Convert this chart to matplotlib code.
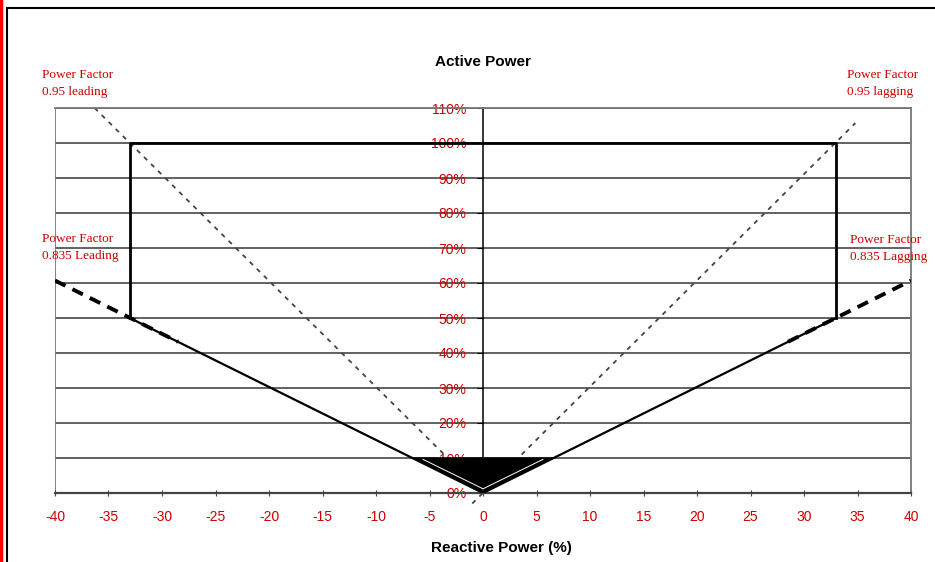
import matplotlib
matplotlib.use("Agg")
import matplotlib.pyplot as plt
from matplotlib.patches import Polygon
from matplotlib.lines import Line2D

# ---- data ----
x_ticks = [-40, -35, -30, -25, -20, -15, -10, -5, 0, 5, 10, 15, 20, 25, 30, 35, 40]
y_ticks = [0, 10, 20, 30, 40, 50, 60, 70, 80, 90, 100, 110]
y_tick_labels = [f"{v}%" for v in y_ticks]

# operating envelope rectangle (Q, P)
box_q = [-33, -33, 33, 33]
box_p = [50, 100, 100, 50]

# PF 0.835 solid V
v_left_q = [-33, 0]
v_left_p = [50, 0]
v_right_q = [0, 33]
v_right_p = [0, 50]

# PF 0.835 thick dashed extensions
pf835_left_q = [-40, -28.5]
pf835_left_p = [60.7, 43.2]
pf835_right_q = [28.5, 40]
pf835_right_p = [43.2, 60.7]

# PF 0.95 thin dotted lines
pf95_left_q = [-36.3, 0.0]
pf95_left_p = [110, 0]
pf95_right_q = [-1.0, 34.8]
pf95_right_p = [-3.0, 105.7]

# black filled triangle at low power
fill_q = [-6.6, 6.6, 0]
fill_p = [10, 10, 0.3]

# white inner gap lines
gap_left_q = [-5.6, 0]
gap_left_p = [9.6, 1.2]
gap_right_q = [0, 5.6]
gap_right_p = [1.2, 9.6]

red = "#cc0000"

fig = plt.figure(figsize=(9.35, 5.62), dpi=100)
ax = fig.add_axes([55/935, 69/562, (911-55)/935, (493-108)/562])

ax.set_xlim(-40, 40)
ax.set_ylim(0, 110)

# grid
for v in y_ticks[1:]:
    ax.axhline(v, color="#555555", lw=1.3, zorder=1)
ax.axvline(-40, color="#777777", lw=1.3, zorder=1)

# spines
ax.spines["left"].set_position(("data", 0))
ax.spines["left"].set_color("black")
ax.spines["left"].set_linewidth(1.1)
ax.spines["right"].set_color("#777777")
ax.spines["right"].set_linewidth(1.3)
ax.spines["top"].set_color("#777777")
ax.spines["top"].set_linewidth(1.3)
ax.spines["bottom"].set_color("#444444")
ax.spines["bottom"].set_linewidth(1.6)

ax.set_xticks(x_ticks)
ax.set_xticklabels([str(v) for v in x_ticks])
ax.set_yticks(y_ticks)
ax.set_yticklabels(y_tick_labels)
ax.tick_params(axis="x", colors="#444444", labelcolor=red, labelsize=10, direction="inout", length=5, pad=10)
ax.tick_params(axis="y", colors="black", labelcolor=red, labelsize=10, direction="out", length=4, pad=8)
for lab in ax.get_xticklabels() + ax.get_yticklabels():
    lab.set_fontfamily("Liberation Sans")

# fill
ax.add_patch(Polygon(list(zip(fill_q, fill_p)), closed=True, color="black", zorder=3))

# V lines
ax.plot(v_left_q, v_left_p, color="black", lw=1.6, zorder=4, solid_capstyle="butt")
ax.plot(v_right_q, v_right_p, color="black", lw=1.6, zorder=4, solid_capstyle="butt")
ax.plot(gap_left_q, gap_left_p, color="white", lw=0.7, zorder=5)
ax.plot(gap_right_q, gap_right_p, color="white", lw=0.7, zorder=5)

# rectangle
ax.plot(box_q, box_p, color="black", lw=2.0, zorder=4)

# thick dashed 0.835
ax.plot(pf835_left_q, pf835_left_p, color="black", lw=2.8, ls=(0, (3, 2)), zorder=4)
ax.plot(pf835_right_q, pf835_right_p, color="black", lw=2.8, ls=(0, (3, 2)), zorder=4)

# dotted 0.95
ax.plot(pf95_left_q, pf95_left_p, color="#444444", lw=1.3, ls=(0, (2.5, 3)), zorder=2, clip_on=False)
ax.plot(pf95_right_q, pf95_right_p, color="#444444", lw=1.3, ls=(0, (2.5, 3)), zorder=2, clip_on=False)

# annotations
ann_kw = dict(color=red, fontsize=9.5, family="Liberation Serif", va="top", ha="left", linespacing=1.55)
fig.text(42/935, 1 - 69/562, "Power Factor\n0.95 leading", **ann_kw)
fig.text(847/935, 1 - 69/562, "Power Factor\n0.95 lagging", **ann_kw)
fig.text(42/935, 1 - 233/562, "Power Factor\n0.835 Leading", **ann_kw)
fig.text(850/935, 1 - 234/562, "Power Factor\n0.835 Lagging", **ann_kw)

# titles
fig.text(483/935, 1 - 62/562, "Active Power", ha="center", va="center",
         fontsize=11, fontweight="bold", family="Liberation Sans")
fig.text(501/935, 1 - 548/562, "Reactive Power (%)", ha="center", va="center",
         fontsize=11, fontweight="bold", family="Liberation Sans")

# figure frame
fig.add_artist(Line2D([7/935, 7/935], [0, 1 - 8/562], color="black", lw=1.5, transform=fig.transFigure))
fig.add_artist(Line2D([7/935, 1], [1 - 8/562, 1 - 8/562], color="black", lw=1.5, transform=fig.transFigure))
fig.add_artist(Line2D([1/935, 1/935], [0, 1], color="red", lw=2.5, transform=fig.transFigure))

fig.savefig("out.png", dpi=100)
